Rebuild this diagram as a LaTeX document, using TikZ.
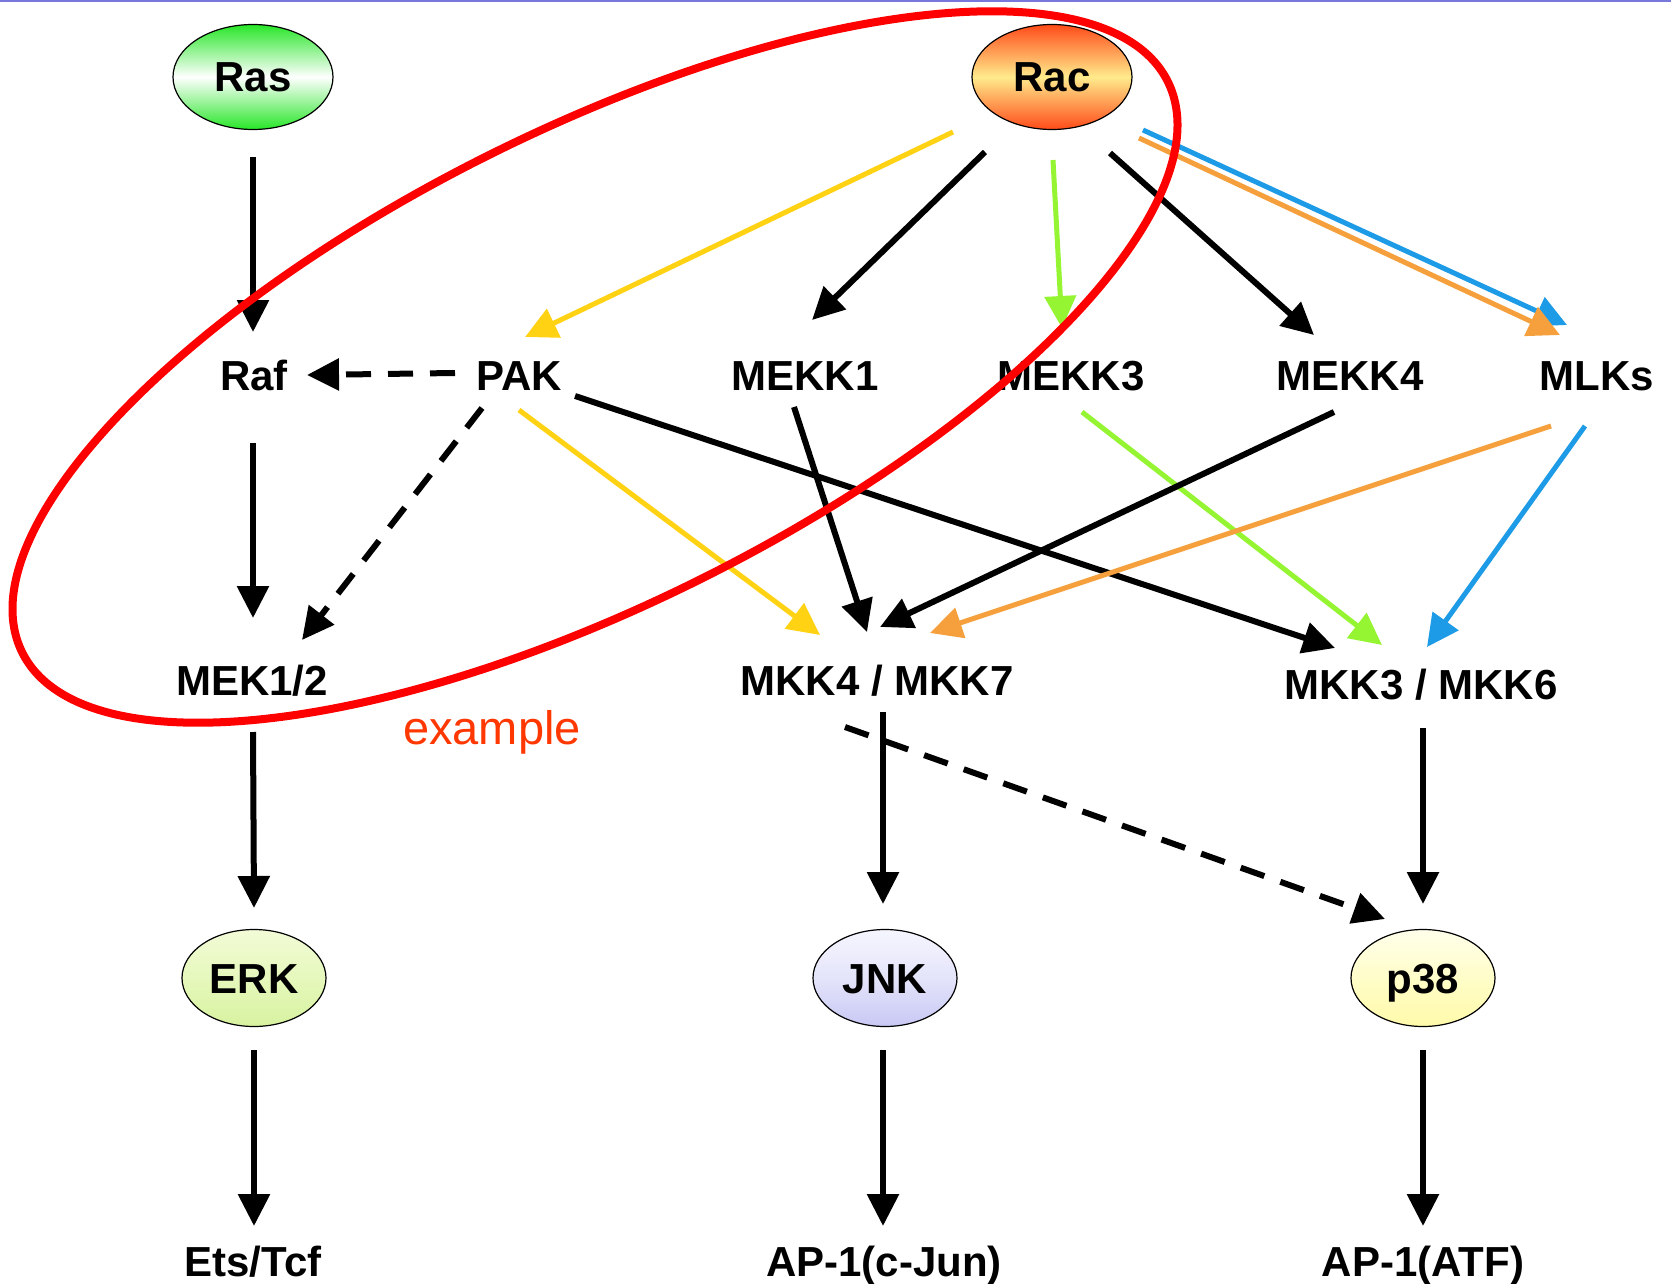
\documentclass[tikz,border=0pt]{standalone}
\usepackage{fontspec}
\setmainfont{Liberation Sans}
\usetikzlibrary{shapes.geometric,arrows.meta,calc}
\definecolor{cyel}{RGB}{255,210,20}
\definecolor{cgrn}{RGB}{150,245,50}
\definecolor{cblu}{RGB}{30,155,230}
\definecolor{corg}{RGB}{245,160,60}
\definecolor{cred}{RGB}{255,0,0}
\definecolor{cexm}{RGB}{255,55,0}
\definecolor{ctop}{RGB}{120,120,220}
\definecolor{rasg}{RGB}{40,230,40}
\definecolor{racr}{RGB}{255,75,25}
\definecolor{racy}{RGB}{255,235,140}
\definecolor{erkt}{RGB}{242,251,215}
\definecolor{erkm}{RGB}{230,248,188}
\definecolor{erkb}{RGB}{215,242,160}
\definecolor{jnkt}{RGB}{246,246,255}
\definecolor{jnkm}{RGB}{228,228,250}
\definecolor{jnkb}{RGB}{200,200,245}
\definecolor{p38t}{RGB}{255,255,235}
\definecolor{p38m}{RGB}{255,253,200}
\definecolor{p38b}{RGB}{255,250,170}
\begin{document}
\begin{tikzpicture}[x=1pt,y=-1pt,
  lbl/.style={font=\fontsize{42}{48}\selectfont\bfseries, inner sep=0pt,
    text height=30pt, text depth=0pt, anchor=center},
  oval/.style={lbl, ellipse, draw=black, line width=1.2pt, inner sep=0pt},
  bigoval/.style={oval, minimum width=160pt, minimum height=105pt},
  smalloval/.style={oval, minimum width=144pt, minimum height=97pt},
  tip/.style={-{Triangle[length=32pt,width=31pt]}},
  blk/.style={tip, line width=6pt, black},
  blkdash/.style={blk, dash pattern=on 25pt off 17pt},
  colarr/.style={tip, line width=5pt, draw=#1, #1},
]
\useasboundingbox (0,0) rectangle (1671,1284);
\fill[white] (0,0) rectangle (1671,1284);
\draw[ctop, line width=2pt] (0,1) -- (1671,1);

% nodes
\node[bigoval, top color=rasg, bottom color=rasg, middle color=white] (Ras) at (253,77) {Ras};
\node[bigoval, top color=racr, bottom color=racr, middle color=racy] (Rac) at (1052,77) {Rac};

\node[lbl] (Raf) at (254,375) {Raf};
\node[lbl] (PAK) at (519,375) {PAK};
\node[lbl] (MEKK1) at (805,375) {MEKK1};
\node[lbl] (MEKK3) at (1071,375) {MEKK3};
\node[lbl] (MEKK4) at (1350,375) {MEKK4};
\node[lbl] (MLKs) at (1597,375) {MLKs};

\node[lbl] (MEK) at (252,680) {MEK1/2};
\node[lbl] (MKKa) at (877,680) {MKK4 / MKK7};
\node[lbl] (MKKb) at (1421,684) {MKK3 / MKK6};

\node[smalloval, top color=erkt, bottom color=erkb, middle color=erkm] (ERK) at (254,978) {ERK};
\node[smalloval, top color=jnkt, bottom color=jnkb, middle color=jnkm] (JNK) at (885,978) {JNK};
\node[smalloval, top color=p38t, bottom color=p38b, middle color=p38m] (p38) at (1423,978) {p38};

\node[lbl] (Ets) at (253,1261) {Ets/Tcf};
\node[lbl] (APJ) at (884,1261) {AP-1(c-Jun)};
\node[lbl] (APA) at (1423,1261) {AP-1(ATF)};

% vertical black arrows
\draw[blk] ($(Ras)+(0,80)$) -- ($(Raf)+(-1,-43)$);
\draw[blk] ($(Raf)+(-1,68)$) -- ($(MEK)+(1,-62)$);
\draw[blk] ($(MEK)+(1,52)$) -- ($(ERK)+(0,-70)$);
\draw[blk] ($(ERK)+(0,72)$) -- ($(Ets)+(1,-35)$);
\draw[blk] ($(MKKa)+(6,32)$) -- ($(JNK)+(-2,-74)$);
\draw[blk] ($(JNK)+(-2,72)$) -- ($(APJ)+(-1,-35)$);
\draw[blk] ($(MKKb)+(2,44)$) -- ($(p38)+(0,-74)$);
\draw[blk] ($(p38)+(0,72)$) -- ($(APA)+(0,-35)$);

% dashed
\draw[blkdash] ($(PAK)+(-64,-2)$) -- ($(Raf)+(53,0)$);
\draw[blkdash] ($(PAK)+(-37,33)$) -- ($(MEK)+(50,-40)$);
\draw[blkdash] ($(MKKa)+(-32,47)$) -- ($(p38)+(-38,-59)$);

% from Rac
\draw[colarr=cyel] ($(Rac)+(-99,55)$) -- ($(PAK)+(6,-38)$);
\draw[blk] ($(Rac)+(-67,75)$) -- ($(MEKK1)+(7,-55)$);
\draw[colarr=cgrn] ($(Rac)+(1,83)$) -- ($(MEKK3)+(-9,-47)$);
\draw[blk] ($(Rac)+(58,76)$) -- ($(MEKK4)+(-36,-40)$);
\draw[colarr=cblu] ($(Rac)+(91,53)$) -- ($(MLKs)+(-30,-50)$);
\draw[colarr=corg] ($(Rac)+(87,61)$) -- ($(MLKs)+(-37,-40)$);

% second layer
\draw[colarr=cyel] ($(PAK)+(0,35)$) -- ($(MKKa)+(-57,-45)$);
\draw[blk] ($(PAK)+(56,21)$) -- ($(MKKb)+(-86,-36)$);
\draw[blk] ($(MEKK1)+(-11,32)$) -- ($(MKKa)+(-10,-48)$);
\draw[colarr=cgrn] ($(MEKK3)+(11,37)$) -- ($(MKKb)+(-39,-39)$);
\draw[blk] ($(MEKK4)+(-16,37)$) -- ($(MKKa)+(3,-53)$);
\draw[colarr=corg] ($(MLKs)+(-46,51)$) -- ($(MKKa)+(53,-47)$);
\draw[colarr=cblu] ($(MLKs)+(-12,51)$) -- ($(MKKb)+(6,-37)$);

% red highlight ellipse
\draw[cred, line width=8pt, rotate around={26.5:(595,367)}] (595,367) ellipse [x radius=640pt, y radius=237pt];
\node[font=\fontsize{47}{56}\selectfont, text=cexm, inner sep=0pt] (ex) at (492,732) {example};
\end{tikzpicture}
\end{document}
